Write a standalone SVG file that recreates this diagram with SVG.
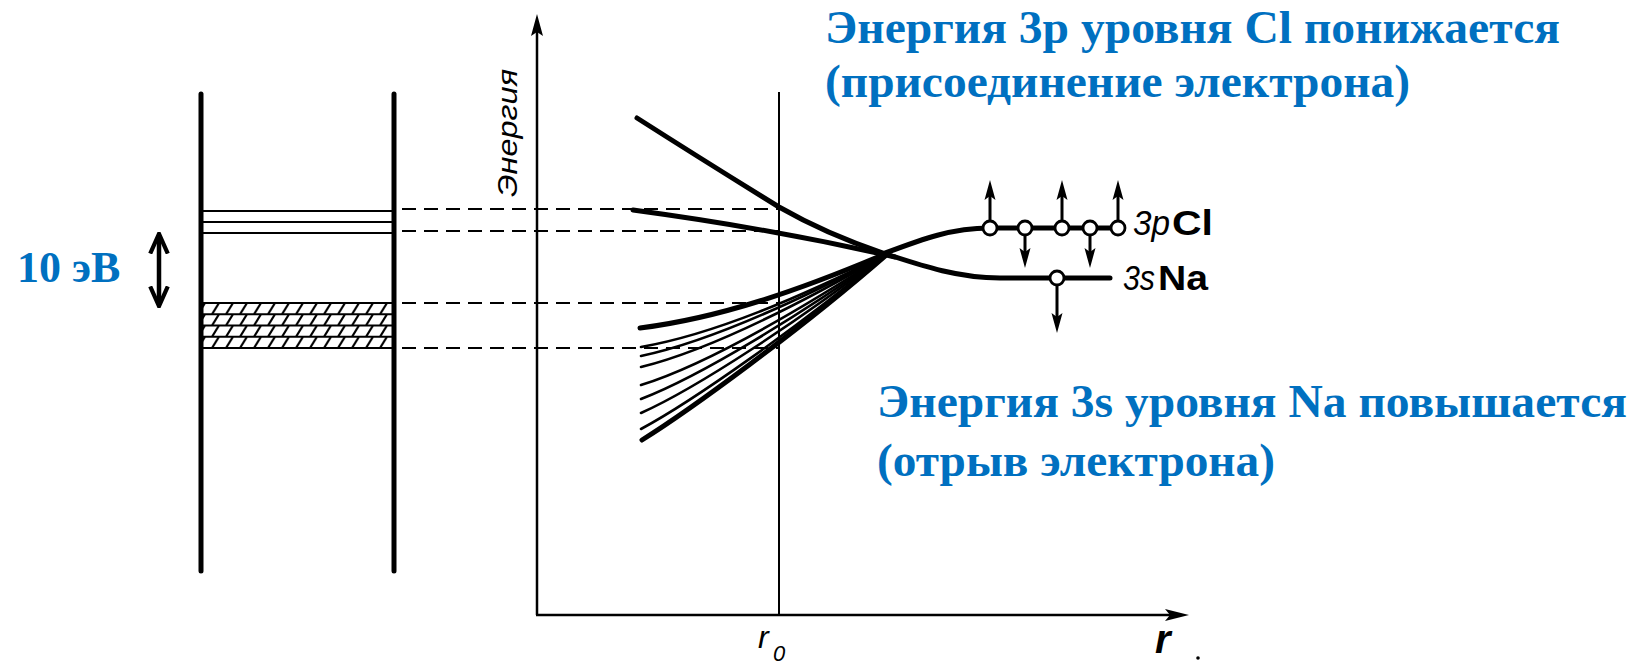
<svg xmlns="http://www.w3.org/2000/svg" width="1643" height="664" viewBox="0 0 1643 664">
<style>
.blue{font-family:"Liberation Serif","Times New Roman",serif;font-weight:bold;font-size:46px;fill:#0070C0}
.lbl{font-family:"Liberation Sans",Arial,sans-serif;fill:#000}
.ax{stroke:#000;stroke-width:2.5;fill:none}
.dash{stroke:#000;stroke-width:2;stroke-dasharray:14 8;fill:none}
.thin{stroke:#000;stroke-width:2;fill:none}
.thick{stroke:#000;stroke-width:5;fill:none;stroke-linecap:round}
.med{stroke:#000;stroke-width:2.6;fill:none;stroke-linecap:round}
.dot{fill:#fff;stroke:#000;stroke-width:2.8}
.arr{stroke:#000;stroke-width:3;fill:none}
.head{fill:#000}
</style>
<defs>
<path id="up" d="M0,0 L-5.5,20 L0,16 L5.5,20 Z"/>
<path id="down" d="M0,0 L-5.5,-20 L0,-16 L5.5,-20 Z"/>
<marker id="big" viewBox="0 0 10 10" refX="8" refY="5" markerWidth="22" markerHeight="22" markerUnits="userSpaceOnUse" orient="auto-start-reverse"><path d="M0,1 L9,5 L0,9" fill="none" stroke="#000" stroke-width="1.9"/></marker>
<pattern id="hatch" x="0" y="303" width="14" height="11.25" patternUnits="userSpaceOnUse"><path d="M2,11.25 L9,0" stroke="#000" stroke-width="2.2"/></pattern>
</defs>

<g id="band-diagram">
<line x1="201" y1="94" x2="201" y2="571" class="thick"/>
<line x1="394" y1="94" x2="394" y2="571" class="thick"/>
<line x1="201" y1="211" x2="394" y2="211" class="thin"/>
<line x1="201" y1="222" x2="394" y2="222" class="thin"/>
<line x1="201" y1="233" x2="394" y2="233" class="thin"/>
<rect x="201" y="303" width="193" height="45" fill="url(#hatch)"/>
<line x1="201" y1="303" x2="394" y2="303" class="thin"/>
<line x1="201" y1="314.25" x2="394" y2="314.25" class="thin"/>
<line x1="201" y1="325.5" x2="394" y2="325.5" class="thin"/>
<line x1="201" y1="336.75" x2="394" y2="336.75" class="thin"/>
<line x1="201" y1="348" x2="394" y2="348" class="thin"/>
</g>

<g id="scale">
<line x1="159" y1="236" x2="159" y2="304" stroke="#000" stroke-width="4.5" marker-start="url(#big)" marker-end="url(#big)"/>
<text x="17" y="282" class="blue" style="font-size:44px">10 эВ</text>
</g>

<g id="axes">
<line x1="537" y1="615" x2="537" y2="30" class="ax"/>
<path d="M537,14 L531,36 L537,32 L543,36 Z" fill="#000"/>
<line x1="536" y1="615" x2="1172" y2="615" class="ax"/>
<path d="M1189,615 L1165,609 L1170,615 L1165,621 Z" fill="#000"/>
<line x1="779" y1="92" x2="779" y2="615" class="thin"/>
<text transform="translate(517,197) rotate(-90)" class="lbl" font-style="italic" font-size="27" textLength="128" lengthAdjust="spacingAndGlyphs">Энергия</text>
<text x="758" y="648" class="lbl" font-style="italic" font-size="32">r</text>
<text x="773" y="661" class="lbl" font-style="italic" font-size="22">0</text>
<text x="1155" y="653" class="lbl" font-style="italic" font-weight="bold" font-size="40">r</text>
<circle cx="1198" cy="658" r="1.8" fill="#000"/>
</g>

<g id="connectors">
<line x1="402" y1="209" x2="779" y2="209" class="dash"/>
<line x1="402" y1="231" x2="779" y2="231" class="dash"/>
<line x1="402" y1="303" x2="779" y2="303" class="dash"/>
<line x1="402" y1="348" x2="779" y2="348" class="dash"/>
</g>

<g id="curves">
<path d="M637,118 C684,148 732,178 779,207 C814,227 850,242 883,253 C925,267 960,278 1000,278 L1110,278" class="thick" stroke-width="4.5"/>
<path d="M633,210 C700,219 790,233 895,257" class="thick" stroke-width="4.5"/>
<path d="M880,255 C920,240 950,228 990,228 L1118,228" class="thick" stroke-width="5"/>
<path d="M640,328 C720,318 800,290 885,254" class="thick"/>
<path d="M641,347 C715,334 800,297 885,255" class="med"/>
<path d="M641,356 C712,341 800,300 885,255" class="med"/>
<path d="M641,367 C710,350 800,304 885,255" class="med"/>
<path d="M641,385 C705,365 800,310 885,255" class="med"/>
<path d="M641,399 C701,376 800,315 885,255" class="med"/>
<path d="M641,413 C697,388 800,320 885,255" class="med"/>
<path d="M641,429 C693,401 800,326 885,255" class="med"/>
<path d="M642,440 C690,410 800,330 885,256" class="thick"/>
</g>

<g id="cl-level">
<line x1="990" y1="221" x2="990" y2="190" class="arr"/>
<use href="#up" x="990" y="180" class="head"/>
<line x1="1062" y1="221" x2="1062" y2="190" class="arr"/>
<use href="#up" x="1062" y="180" class="head"/>
<line x1="1118" y1="221" x2="1118" y2="190" class="arr"/>
<use href="#up" x="1118" y="180" class="head"/>
<line x1="1025" y1="235" x2="1025" y2="258" class="arr"/>
<use href="#down" x="1025" y="268" class="head"/>
<line x1="1090" y1="235" x2="1090" y2="258" class="arr"/>
<use href="#down" x="1090" y="268" class="head"/>
<circle cx="990" cy="228" r="7" class="dot"/>
<circle cx="1025" cy="228" r="7" class="dot"/>
<circle cx="1062" cy="228" r="7" class="dot"/>
<circle cx="1090" cy="228" r="7" class="dot"/>
<circle cx="1118" cy="228" r="7" class="dot"/>
<text x="1133" y="235" class="lbl" font-size="35"><tspan font-style="italic" textLength="37" lengthAdjust="spacingAndGlyphs">3p</tspan><tspan dx="2" font-weight="bold" textLength="41" lengthAdjust="spacingAndGlyphs">Cl</tspan></text>
</g>

<g id="na-level">
<line x1="1057" y1="285" x2="1057" y2="323" class="arr"/>
<use href="#down" x="1057" y="333" class="head"/>
<circle cx="1057" cy="278" r="7" class="dot"/>
<text x="1123" y="290" class="lbl" font-size="35"><tspan font-style="italic" textLength="32" lengthAdjust="spacingAndGlyphs">3s</tspan><tspan dx="3" font-weight="bold" textLength="50" lengthAdjust="spacingAndGlyphs">Na</tspan></text>
</g>

<g id="annotations">
<text x="825" y="43" class="blue" textLength="735" lengthAdjust="spacingAndGlyphs">Энергия 3p уровня Cl понижается</text>
<text x="825" y="97" class="blue" textLength="585" lengthAdjust="spacingAndGlyphs">(присоединение электрона)</text>
<text x="877" y="417" class="blue" textLength="750" lengthAdjust="spacingAndGlyphs">Энергия 3s уровня Na повышается</text>
<text x="877" y="476" class="blue" textLength="398" lengthAdjust="spacingAndGlyphs">(отрыв электрона)</text>
</g>
</svg>
